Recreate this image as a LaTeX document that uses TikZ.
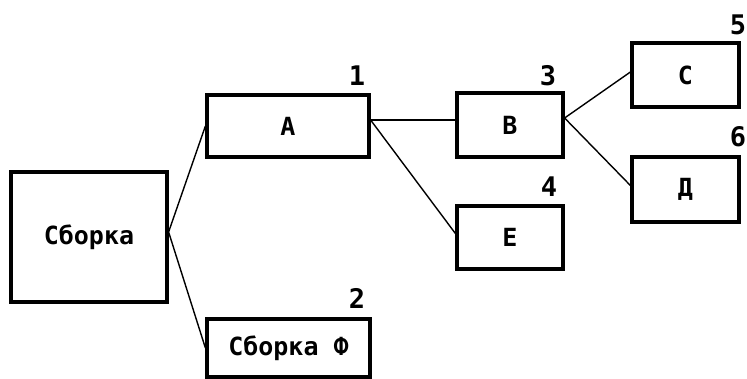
\documentclass[tikz,border=0pt]{standalone}
\usepackage{fontspec}
\setmonofont{DejaVu Sans Mono}
\begin{document}
\begin{tikzpicture}[x=1pt,y=-1pt,
  box/.style={draw,line width=3.2pt,inner sep=0pt,font=\ttfamily\bfseries\fontsize{25}{25}\selectfont},
  conn/.style={line width=1.4pt},
  num/.style={inner sep=0pt,font=\ttfamily\bfseries\fontsize{27}{27}\selectfont}]
\useasboundingbox (0,0) rectangle (747,379);
\node[box,minimum width=156pt,minimum height=130pt] (sb) at (89,237) {Сборка};
\node[box,minimum width=163pt,minimum height=58pt] (sf) at (288.5,348) {Сборка Ф};
\node[box,minimum width=162pt,minimum height=62pt] (a) at (288,126) {А};
\node[box,minimum width=106pt,minimum height=64pt] (b) at (510,125) {В};
\node[box,minimum width=106pt,minimum height=63pt] (e) at (510,237.5) {Е};
\node[box,minimum width=107pt,minimum height=64pt] (c) at (685.5,75) {С};
\node[box,minimum width=107pt,minimum height=65pt] (d) at (685.5,189.5) {Д};
\node[num] (n1) at (357,76) {1};
\node[num] (n2) at (357,298) {2};
\node[num] (n3) at (548,76) {3};
\node[num] (n4) at (549,187) {4};
\node[num] (n5) at (738,25) {5};
\node[num] (n6) at (738,137) {6};
\draw[conn] ([yshift=5pt]sb.east) -- (a.west);
\draw[conn] ([yshift=5pt]sb.east) -- (sf.west);
\draw[conn] ([yshift=6pt]a.east) -- ([yshift=5pt]b.west);
\draw[conn] ([yshift=6pt]a.east) -- ([yshift=4pt]e.west);
\draw[conn] ([yshift=7pt]b.east) -- ([yshift=3pt]c.west);
\draw[conn] ([yshift=7pt]b.east) -- ([yshift=4pt]d.west);
\end{tikzpicture}
\end{document}
